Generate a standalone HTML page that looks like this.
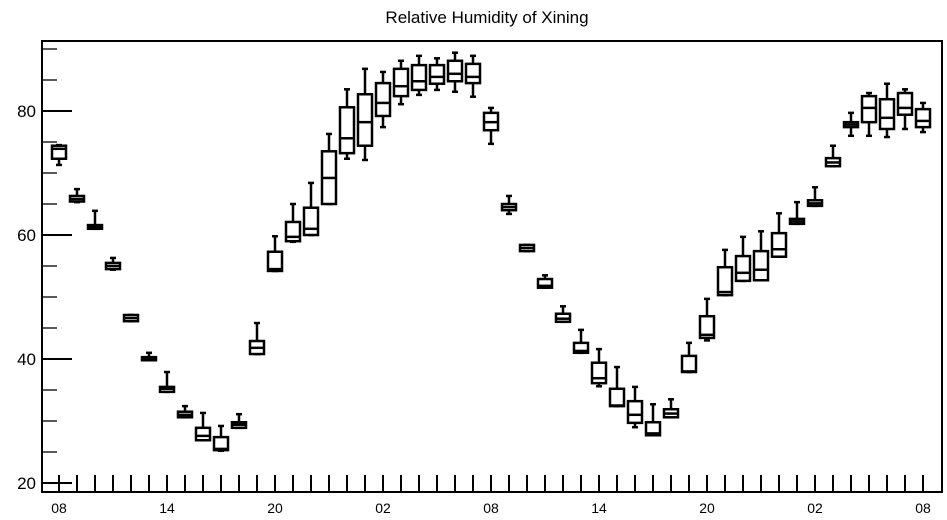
<!DOCTYPE html>
<html><head><meta charset="utf-8"><style>
body{margin:0;background:#fff;}
svg{display:block;font-family:"Liberation Sans",sans-serif;}
</style></head><body>
<svg id="chart" width="947" height="520" xmlns="http://www.w3.org/2000/svg">
<text x="487" y="23" text-anchor="middle" font-size="17">Relative Humidity of Xining</text>
<g id="axes"></g>
<g id="boxes"></g>
<rect x="42" y="41" width="900" height="451" fill="none" stroke="#000" stroke-width="2"/>
</svg>
<script>
const hourLabels = ["08","14","20","02","08","14","20","02","08"];
const yTicks = [20,40,60,80];
const mins = [71.3,65.3,61,54.4,46.1,39.8,34.7,30.6,26.9,25.2,28.9,40.8,54.2,58.9,60,65,72.3,72.1,77.4,81.1,82.6,83.4,83.1,82.3,74.7,63.4,57.4,51.5,46,41,35.6,32.4,29,27.7,30.6,37.9,43,50.3,52.6,52.7,56.5,61.8,64.7,71.1,76,76,75.8,77.1,76.6];
const q1s = [72.3,65.4,61,54.5,46.1,39.8,34.7,30.6,26.9,25.3,28.9,40.8,54.2,59,60,65,73.2,74.4,79.2,82.4,83.4,84.4,84.8,84.5,76.9,64,57.4,51.5,46,41,36.1,32.4,29.7,27.7,30.6,37.9,43.4,50.3,52.6,52.7,56.5,61.8,64.7,71.1,77.4,78.2,77.1,79.4,77.4];
const medians = [73.9,65.8,61.3,55,46.6,40,35.2,31,27.6,25.5,29.4,41.8,54.5,59.7,61,69.2,75.6,78.2,81.3,84,84.8,85.5,86,85.5,78.2,64.5,57.9,51.8,46.5,41.3,36.9,32.5,31,28,31.2,38,43.9,50.8,53.9,54.4,57.7,62.2,65.1,71.7,77.8,80.5,78.9,80.5,78.4];
const q3s = [74.4,66.3,61.6,55.5,47.1,40.3,35.5,31.5,28.9,27.4,29.8,42.9,57.3,62.1,64.4,73.5,80.6,82.7,84.5,86.8,87.4,87.4,88.1,87.6,79.7,65,58.4,52.9,47.3,42.6,39.4,35.2,33.2,29.8,31.9,40.5,46.9,54.8,56.6,57.4,60.3,62.6,65.6,72.4,78.2,82.4,81.9,82.9,80.3];
const maxs = [74.5,67.4,63.9,56.3,47.1,41,37.9,32.4,31.3,29.2,31.1,45.8,59.8,65,68.4,76.3,83.5,86.8,86.3,88.1,88.9,88.5,89.4,88.9,80.5,66.3,58.4,53.5,48.5,44.7,41.6,38.7,35.5,32.7,33.5,42.6,49.7,57.6,59.7,60.6,63.5,65.3,67.7,74.4,79.7,82.9,84.4,83.5,81.3];

const NS="http://www.w3.org/2000/svg";
const X0=59, DX=18;
function xs(i){return X0+i*DX;}
function ys(v){return 483-(v-20)*6.2;}
function mk(tag,attrs,parent){const e=document.createElementNS(NS,tag);for(const k in attrs)e.setAttribute(k,attrs[k]);parent.appendChild(e);return e;}
const axes=document.getElementById('axes');
const boxes=document.getElementById('boxes');
// y ticks
for(let v=20;v<=90;v+=5){
  const major=yTicks.includes(v);
  const t=mk('line',{x1:42,x2:major?72:57,y1:ys(v),y2:ys(v),stroke:'#000','stroke-width':major?2:1.3},axes);
  
  
}
yTicks.forEach(v=>{
  const t=mk('text',{x:36,y:ys(v)+6,'text-anchor':'end','font-size':17},axes);
  t.textContent=v;
  
  
});
// x ticks
for(let i=0;i<mins.length;i++){
  const t=mk('line',{x1:xs(i),x2:xs(i),y1:475,y2:492,stroke:'#000','stroke-width':2},axes);
  
  
}
hourLabels.forEach((l,k)=>{
  const t=mk('text',{x:xs(k*6),y:513,'text-anchor':'middle','font-size':14},axes);
  t.textContent=l;
  
  
});
// boxes
for(let i=0;i<mins.length;i++){
  const g=mk('g',{stroke:'#000','stroke-width':2.5,fill:'none'},boxes);
  
  
  const x=xs(i);
  mk('line',{x1:x,x2:x,y1:ys(maxs[i]),y2:ys(q3s[i])},g);
  mk('line',{x1:x,x2:x,y1:ys(q1s[i]),y2:ys(mins[i])},g);
  mk('line',{x1:x-3,x2:x+3,y1:ys(maxs[i]),y2:ys(maxs[i])},g);
  mk('line',{x1:x-3,x2:x+3,y1:ys(mins[i]),y2:ys(mins[i])},g);
  const top=ys(q3s[i]),bot=ys(q1s[i]);
  mk('rect',{x:x-7,y:top,width:14,height:Math.max(bot-top,1.5),fill:'#fff'},g);
  mk('line',{x1:x-7,x2:x+7,y1:ys(medians[i]),y2:ys(medians[i])},g);
}
</script>
</body></html>
